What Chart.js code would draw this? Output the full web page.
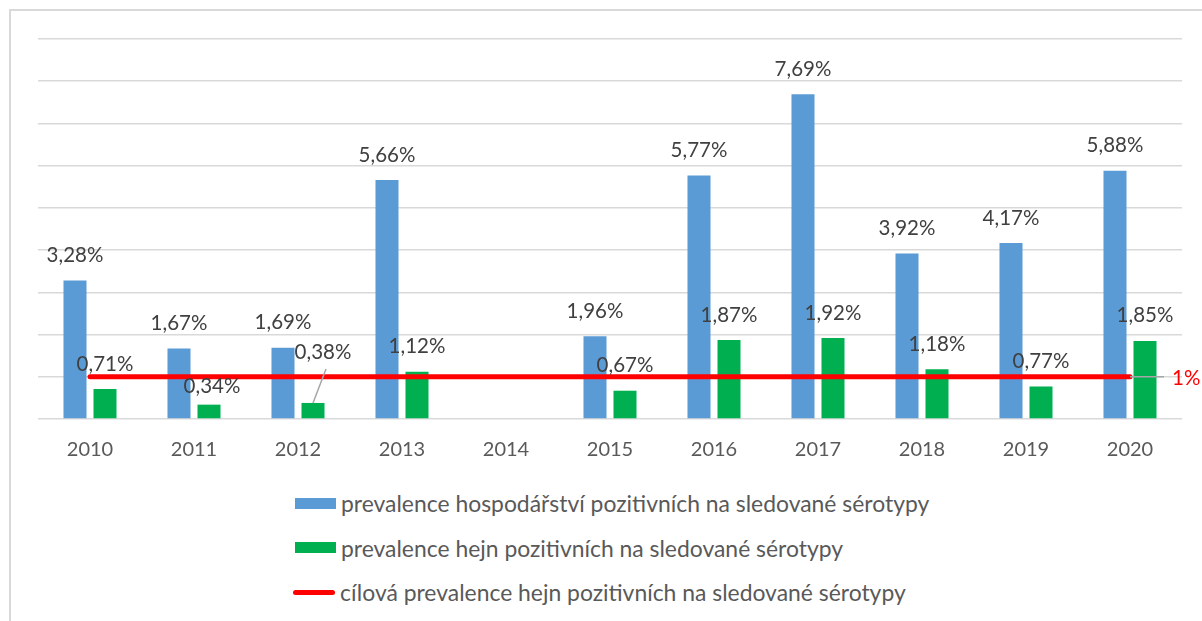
<!DOCTYPE html>
<html>
<head>
<meta charset="utf-8">
<script src="https://cdn.jsdelivr.net/npm/chart.js@4.4.1/dist/chart.umd.min.js"></script>
<style>
  body { margin: 0; background: #fff; }
  #wrap { position: relative; width: 1202px; height: 621px; overflow: hidden; font-family: Lato, "Open Sans", sans-serif; }
  #frame { position: absolute; left: 9px; top: 9px; width: 1300px; height: 700px; border-left: 2px solid #d9d9d9; border-top: 2px solid #d9d9d9; }
  #chart { position: absolute; left: 0; top: 0; }
  #legend { position: absolute; left: 293px; top: 481px; color: #595959; font-size: 22.9px; }
  .item { height: 44.5px; display: flex; align-items: center; white-space: nowrap; }
  .swatch { width: 41px; height: 11px; margin-left: 2px; margin-right: 5px; }
  .line { width: 42px; height: 5px; border-radius: 3px; margin-right: 5px; }
</style>
</head>
<body>
<div id="wrap">
  <div id="frame"></div>
  <canvas id="chart" width="1202" height="470"></canvas>
  <div id="legend"></div>
</div>
<script>
// data
const years = ['2010', '2011', '2012', '2013', '2014', '2015', '2016', '2017', '2018', '2019', '2020'];
const farmPrevalence = [3.28, 1.67, 1.69, 5.66, null, 1.96, 5.77, 7.69, 3.92, 4.17, 5.88];
const flockPrevalence = [0.71, 0.34, 0.38, 1.12, null, 0.67, 1.87, 1.92, 1.18, 0.77, 1.85];
const targetPrevalence = [1, 1, 1, 1, 1, 1, 1, 1, 1, 1, 1];
const seriesNames = [
  'prevalence hospodářství pozitivních na sledované sérotypy',
  'prevalence hejn pozitivních na sledované sérotypy',
  'cílová prevalence hejn pozitivních na sledované sérotypy'
];
const yMin = 0, yMax = 9, yStep = 1;

const BLUE = '#5b9bd5', GREEN = '#00b050', RED = '#ff0000';
const FONT = 'Lato, "Open Sans", sans-serif';

// labels moved by hand in the original (dataset index, point index -> dx, dy)
const labelNudge = { '1,1': [3, 7], '1,2': [10, -26] };

const fmt = v => v.toFixed(2).replace('.', ',') + '%';

const valueLabels = {
  id: 'valueLabels',
  afterDatasetsDraw(chart) {
    const ctx = chart.ctx;
    ctx.save();
    ctx.font = '20.5px ' + FONT;
    ctx.textAlign = 'center';
    ctx.textBaseline = 'middle';
    [0, 1].forEach(di => {
      const meta = chart.getDatasetMeta(di);
      meta.data.forEach((bar, i) => {
        const v = chart.data.datasets[di].data[i];
        if (v == null) return;
        const n = labelNudge[di + ',' + i] || [0, 0];
        const lx = bar.x + n[0], ly = bar.y - 25 + n[1];
        if (n[1] < -10) {
          // leader line
          ctx.strokeStyle = '#a6a6a6';
          ctx.lineWidth = 1.5;
          ctx.beginPath();
          ctx.moveTo(bar.x, bar.y);
          ctx.lineTo(lx + 3, ly + 17);
          ctx.stroke();
        }
        ctx.fillStyle = '#404040';
        ctx.fillText(fmt(v), lx, ly);
      });
    });
    // target label at the end of the line
    const lm = chart.getDatasetMeta(2);
    const last = lm.data[lm.data.length - 1];
    ctx.strokeStyle = '#a6a6a6';
    ctx.lineWidth = 1.5;
    ctx.beginPath();
    ctx.moveTo(last.x, last.y);
    ctx.lineTo(last.x + 34, last.y);
    ctx.stroke();
    ctx.fillStyle = RED;
    ctx.textAlign = 'left';
    ctx.fillText(targetPrevalence[targetPrevalence.length - 1] + '%', last.x + 42, last.y + 2);
    ctx.restore();
  }
};

const chart = new Chart(document.getElementById('chart'), {
  type: 'bar',
  data: {
    labels: years,
    datasets: [
      { label: seriesNames[0], data: farmPrevalence, backgroundColor: BLUE, order: 2,
        categoryPercentage: 0.577, barPercentage: 0.767 },
      { label: seriesNames[1], data: flockPrevalence, backgroundColor: GREEN, order: 2,
        categoryPercentage: 0.577, barPercentage: 0.767 },
      { label: seriesNames[2], data: targetPrevalence, type: 'line', borderColor: RED, backgroundColor: RED,
        borderWidth: 5, pointRadius: 0, borderCapStyle: 'round', order: 1 }
    ]
  },
  options: {
    responsive: false,
    animation: false,
    devicePixelRatio: 1,
    layout: { padding: { top: 39, right: 20, left: 0, bottom: 0 } },
    plugins: { legend: { display: false }, tooltip: { enabled: false } },
    scales: {
      x: {
        grid: { display: false },
        border: { display: false },
        ticks: { color: '#595959', font: { family: FONT, size: 20 }, padding: 11 },
        afterFit: s => { s.height = 51; }
      },
      y: {
        min: yMin, max: yMax,
        grid: { color: '#d9d9d9', lineWidth: 1.5, drawTicks: false },
        border: { display: false },
        ticks: { display: false, stepSize: yStep },
        afterFit: s => { s.width = 38; }
      }
    }
  },
  plugins: [valueLabels]
});

// legend as html
const legend = document.getElementById('legend');
chart.data.datasets.forEach(ds => {
  const row = document.createElement('div');
  row.className = 'item';
  const mark = document.createElement('span');
  mark.className = ds.type === 'line' ? 'line' : 'swatch';
  mark.style.background = ds.type === 'line' ? ds.borderColor : ds.backgroundColor;
  const txt = document.createElement('span');
  txt.textContent = ds.label;
  row.appendChild(mark);
  row.appendChild(txt);
  legend.appendChild(row);
});
</script>
</body>
</html>
